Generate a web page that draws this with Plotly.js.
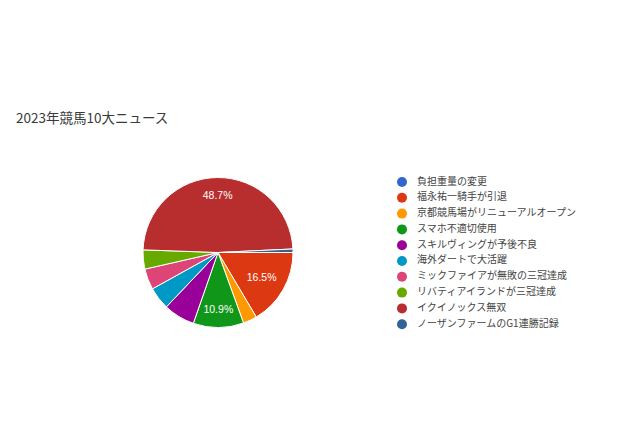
<!DOCTYPE html>
<html>
<head>
<meta charset="utf-8">
<script src="https://cdn.plot.ly/plotly-3.0.1.min.js"></script>
<style>
  html, body { margin: 0; padding: 0; background: #fff; }
  #chart { width: 630px; height: 441px; }
</style>
</head>
<body>
<div id="chart"></div>
<script>
// answers of the survey (counts), legend order = slice order
const categories = [
    '負担重量の変更',
    '福永祐一騎手が引退',
    '京都競馬場がリニューアルオープン',
    'スマホ不適切使用',
    'スキルヴィングが予後不良',
    '海外ダートで大活躍',
    'ミックファイアが無敗の三冠達成',
    'リバティアイランドが三冠達成',
    'イクイノックス無双',
    'ノーザンファームのG1連勝記録'
];
const votes = [0, 44, 8, 29, 18, 13, 12, 11, 130, 2];
const colors = ['#3366cc', '#dc3912', '#ff9900', '#109618', '#990099',
                '#0099c6', '#dd4477', '#66aa00', '#b82e2e', '#316395'];
const chartTitle = '2023年競馬10大ニュース';

const W = 630, H = 441;
const jpFont = '"Noto Sans CJK JP", "Liberation Sans", Arial, sans-serif';
const numFont = '"Liberation Sans", Arial, sans-serif';

const total = votes.reduce((s, v) => s + v, 0);
const share = votes.map(v => v / total);
// google only prints the percent on slices that are big enough.
// the biggest slice gets its label further out (ring trace below)
const bigText = share.map(p => p > 0.3 ? '%{percent:.1%}' : '');
const midText = share.map(p => p > 0.08 && p <= 0.3 ? '%{percent:.1%}' : '');

// pie: centre (218, 252.5), radius 75
const cx = 218, cy = 252.5, r = 75;
const pieDomain = {
    x: [(cx - r) / W, (cx + r) / W],
    y: [(H - cy - r) / H, (H - cy + r) / H]
};

const pie = {
    type: 'pie',
    labels: categories,
    values: votes,
    sort: false,
    direction: 'clockwise',
    rotation: 90,
    marker: { colors: colors, line: { color: '#ffffff', width: 1 } },
    texttemplate: midText,
    textposition: 'inside',
    insidetextorientation: 'horizontal',
    textfont: { family: numFont, size: 10.5, color: '#ffffff' },
    hoverinfo: 'skip',
    showlegend: false,
    domain: pieDomain
};

// transparent ring on top, only carries the label of the big slice
const pieLabelRing = {
    type: 'pie',
    labels: categories,
    values: votes,
    sort: false,
    direction: 'clockwise',
    rotation: 90,
    hole: 0.54,
    marker: { colors: categories.map(() => 'rgba(0,0,0,0)'), line: { width: 0 } },
    texttemplate: bigText,
    textposition: 'inside',
    insidetextorientation: 'horizontal',
    textfont: { family: numFont, size: 10.5, color: '#ffffff' },
    hoverinfo: 'skip',
    showlegend: false,
    domain: pieDomain
};

// legend drawn as a small scatter so the row spacing matches (15.8px)
const rowIdx = categories.map((c, i) => i);
const legendDots = {
    type: 'scatter',
    mode: 'markers',
    x: categories.map(() => 0.45),
    y: rowIdx,
    marker: { color: colors, size: 10, symbol: 'circle' },
    hoverinfo: 'skip',
    showlegend: false,
    xaxis: 'x', yaxis: 'y'
};
const legendText = {
    type: 'scatter',
    mode: 'text',
    x: categories.map(() => 1.2),
    y: rowIdx,
    text: categories,
    textposition: 'middle right',
    textfont: { family: jpFont, size: 10, color: '#444444' },
    hoverinfo: 'skip',
    showlegend: false,
    xaxis: 'x', yaxis: 'y'
};

const rowTop = 182, rowStep = 15.8;
const yTopPx = rowTop - rowStep / 2;
const yBotPx = rowTop + rowStep * (categories.length - 0.5);

const layout = {
    width: W,
    height: H,
    margin: { l: 0, r: 0, t: 0, b: 0 },
    paper_bgcolor: '#ffffff',
    plot_bgcolor: 'rgba(0,0,0,0)',
    showlegend: false,
    title: {
        text: chartTitle,
        font: { family: jpFont, size: 13.5, color: '#3a3a3a' },
        x: 16 / W,
        xanchor: 'left',
        xref: 'paper',
        y: 1 - 118 / H,
        yanchor: 'middle',
        yref: 'container'
    },
    xaxis: {
        domain: [393 / W, 613 / W],
        range: [0, 11],
        visible: false,
        fixedrange: true
    },
    yaxis: {
        domain: [(H - yBotPx) / H, (H - yTopPx) / H],
        range: [categories.length - 0.5, -0.5],
        visible: false,
        fixedrange: true
    }
};

Plotly.newPlot('chart', [pie, pieLabelRing, legendDots, legendText], layout,
    { displayModeBar: false, staticPlot: true });
</script>
</body>
</html>
